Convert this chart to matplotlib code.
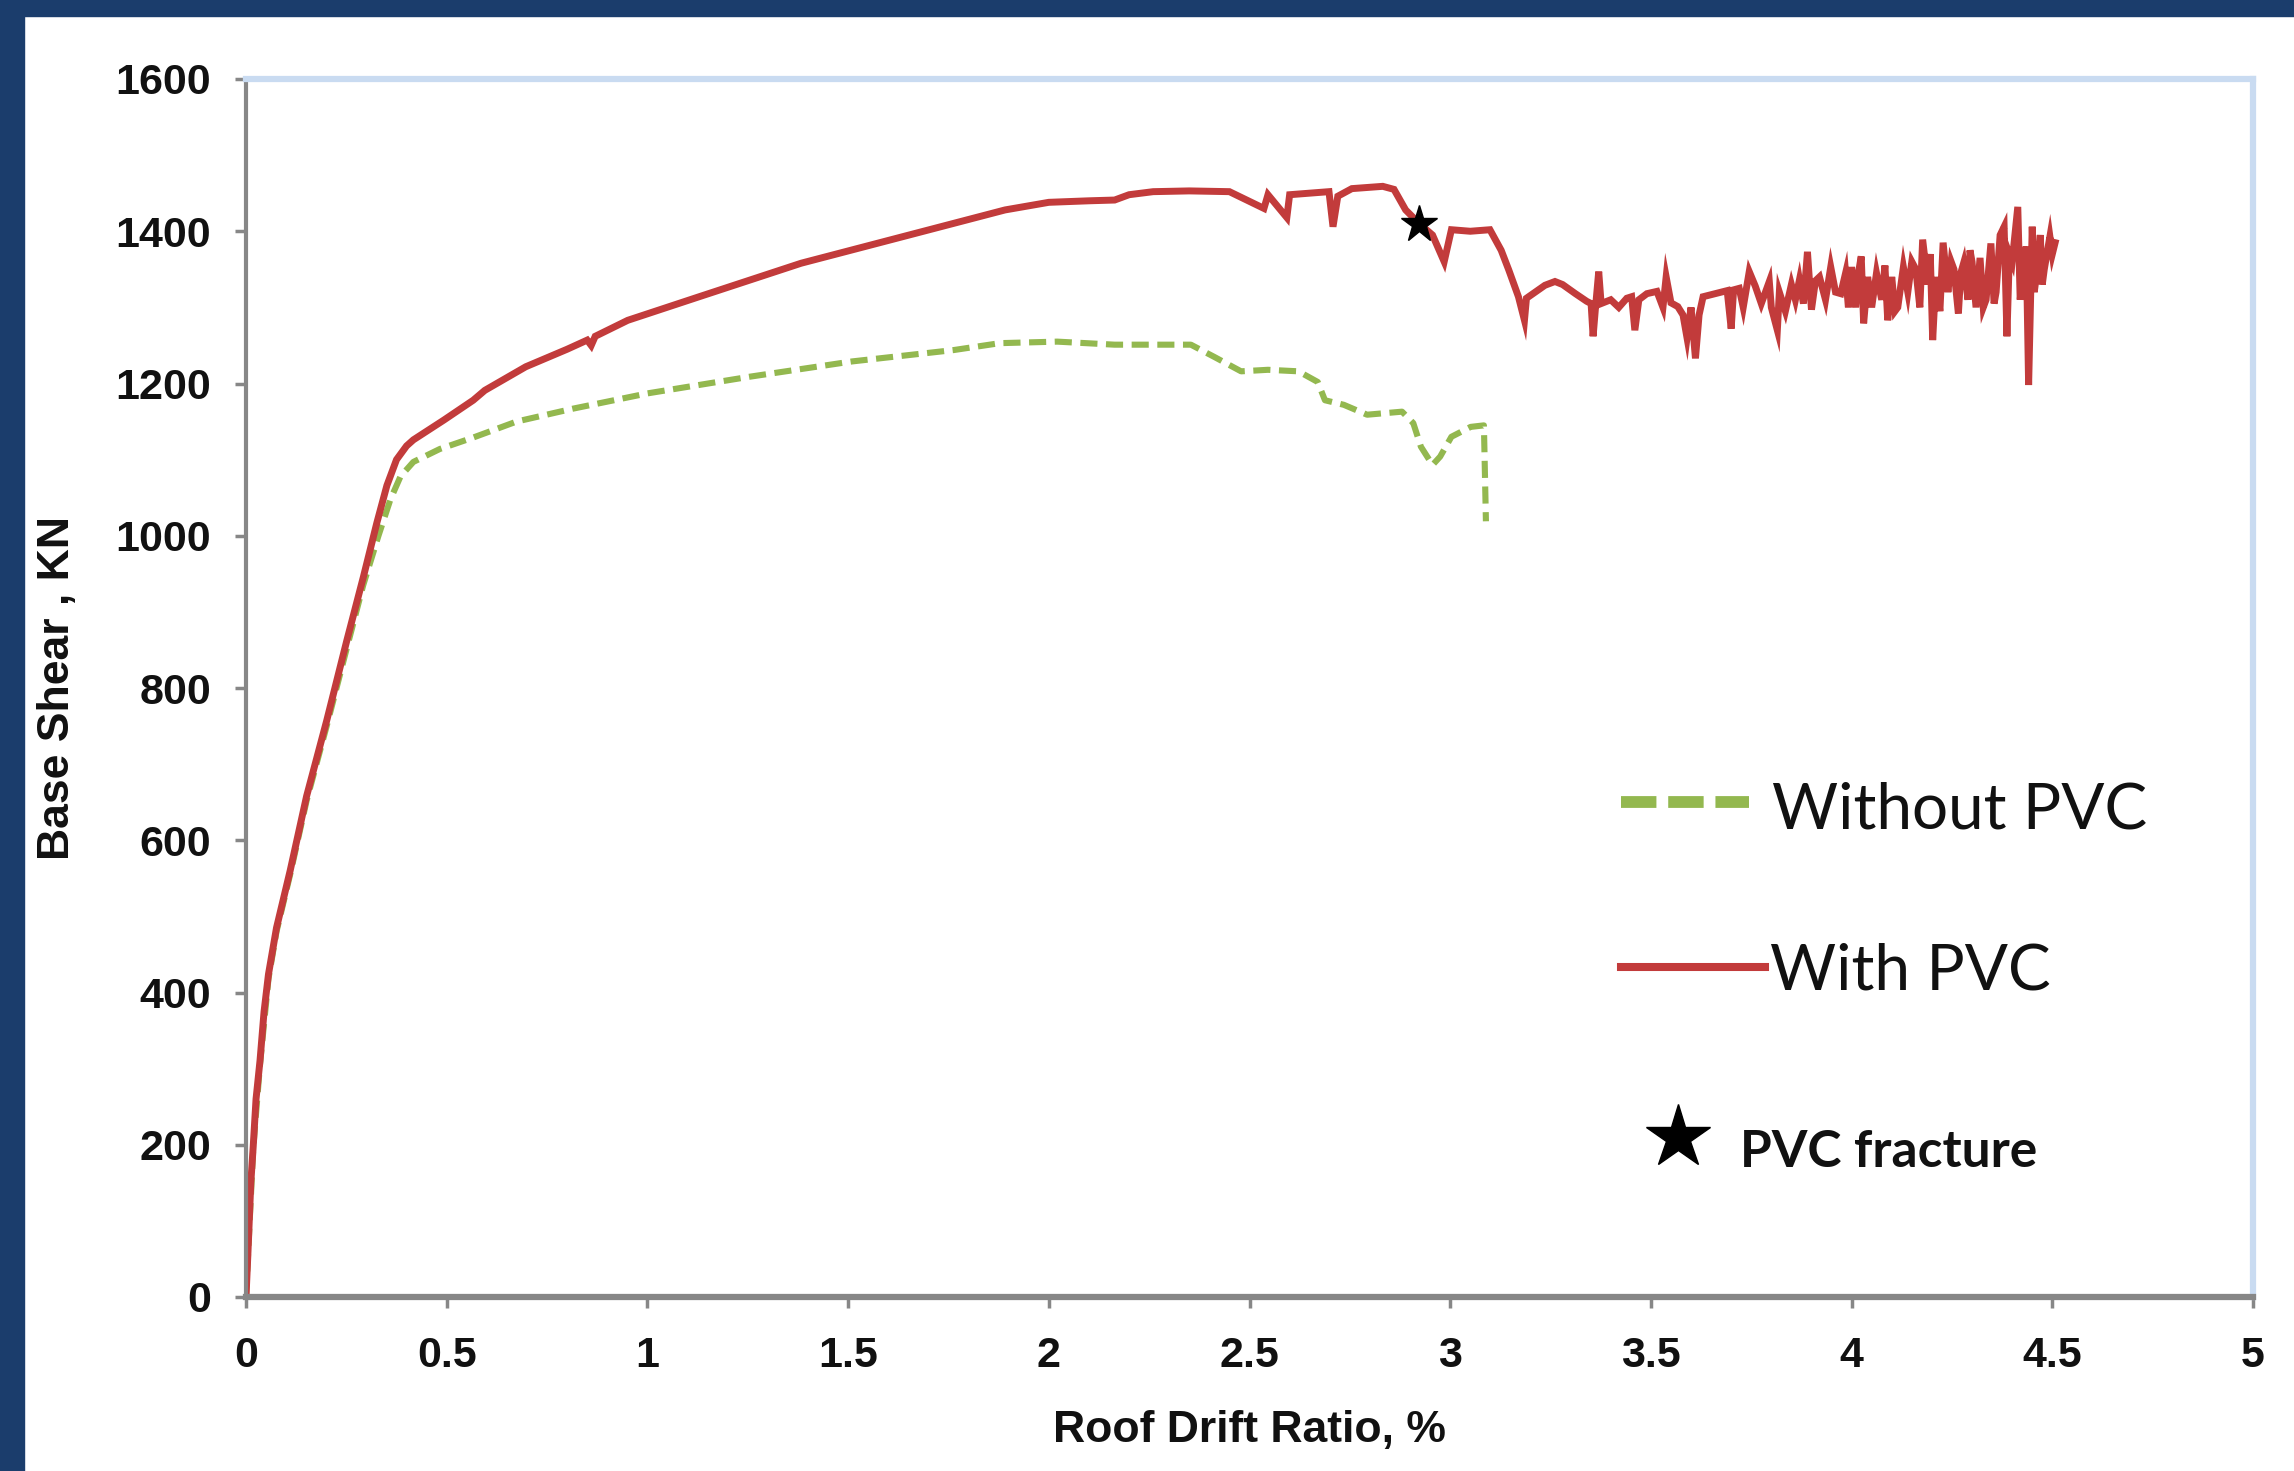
import numpy as np
import matplotlib
matplotlib.use('Agg')
import matplotlib.pyplot as plt
from matplotlib.lines import Line2D
from matplotlib.patches import Rectangle

W, H = 2294, 1471

# roof drift ratio (%) / base shear (kN)
with_pvc_x = [0.0, 0.005, 0.012, 0.018, 0.025, 0.035, 0.045, 0.056, 0.076, 0.11,
              0.151, 0.201, 0.251, 0.292, 0.326, 0.351, 0.375, 0.40, 0.417, 0.493,
              0.566, 0.595, 0.697, 0.80, 0.85, 0.86, 0.87, 0.951, 1.129, 1.383,
              1.637, 1.891, 2.0, 2.1, 2.164, 2.2, 2.26, 2.35, 2.45, 2.536,
              2.546, 2.593, 2.60, 2.698, 2.708, 2.72, 2.755, 2.832, 2.86, 2.889,
              2.923, 2.956, 2.985, 3.003, 3.05, 3.099, 3.127, 3.146, 3.17, 3.185,
              3.19, 3.236, 3.261, 3.28, 3.312, 3.34, 3.351, 3.356, 3.362, 3.370,
              3.376, 3.40, 3.42, 3.44, 3.452, 3.46, 3.47, 3.49, 3.515, 3.53,
              3.538, 3.55, 3.567, 3.58, 3.59, 3.60, 3.611, 3.62, 3.63, 3.66,
              3.69, 3.70, 3.706, 3.72, 3.73, 3.745, 3.76, 3.775, 3.795, 3.80,
              3.815, 3.82, 3.835, 3.85, 3.86, 3.87, 3.88, 3.89, 3.90, 3.91,
              3.92, 3.935, 3.948, 3.96, 3.973, 3.985, 3.992, 4.0, 4.01, 4.017,
              4.024, 4.03, 4.04, 4.05, 4.062, 4.075, 4.083, 4.09, 4.10, 4.108,
              4.115, 4.129, 4.14, 4.15, 4.16, 4.17, 4.177, 4.19, 4.196, 4.202,
              4.21, 4.22, 4.228, 4.24, 4.248, 4.255, 4.266, 4.272, 4.279, 4.29,
              4.295, 4.30, 4.31, 4.32, 4.328, 4.335, 4.347, 4.355, 4.36, 4.37,
              4.38, 4.387, 4.393, 4.40, 4.414, 4.42, 4.425, 4.435, 4.441, 4.45,
              4.455, 4.46, 4.47, 4.475, 4.48, 4.494, 4.50, 4.507]
with_pvc_y = [0, 60, 150, 198, 260, 311, 375, 424, 485, 560,
              658, 757, 862, 945, 1017, 1066, 1100, 1118, 1126, 1152,
              1178, 1191, 1222, 1245, 1257, 1250, 1262, 1283, 1314, 1358,
              1393, 1428, 1438, 1440, 1441, 1448, 1452, 1453, 1452, 1430,
              1448, 1418, 1448, 1452, 1406, 1446, 1456, 1459, 1455, 1428,
              1410, 1395, 1360, 1402, 1400, 1402, 1375, 1349, 1314, 1283,
              1312, 1329, 1334, 1330, 1318, 1308, 1305, 1262, 1300, 1347,
              1305, 1310, 1300, 1312, 1314, 1270, 1310, 1318, 1321, 1300,
              1340, 1306, 1301, 1290, 1260, 1300, 1233, 1290, 1314, 1318,
              1322, 1272, 1323, 1325, 1300, 1347, 1328, 1305, 1334, 1300,
              1270, 1320, 1295, 1330, 1310, 1336, 1305, 1373, 1297, 1335,
              1340, 1310, 1353, 1320, 1318, 1345, 1300, 1353, 1300, 1345,
              1367, 1279, 1340, 1300, 1345, 1310, 1355, 1283, 1340, 1295,
              1300, 1353, 1320, 1360, 1350, 1300, 1389, 1330, 1370, 1257,
              1340, 1295, 1385, 1320, 1360, 1350, 1292, 1345, 1358, 1310,
              1375, 1360, 1300, 1365, 1300, 1310, 1384, 1305, 1320, 1395,
              1406, 1262, 1370, 1360, 1432, 1310, 1340, 1380, 1198, 1406,
              1320, 1340, 1395, 1330, 1350, 1393, 1370, 1385]

without_pvc_x = [0.0, 0.018, 0.035, 0.056, 0.076, 0.11, 0.151, 0.201, 0.251, 0.292,
                 0.33, 0.36, 0.385, 0.417, 0.483, 0.566, 0.674, 0.815, 1.0, 1.256,
                 1.51, 1.764, 1.878, 2.021, 2.164, 2.354, 2.412, 2.479, 2.546, 2.622,
                 2.67, 2.688, 2.735, 2.793, 2.88, 2.908, 2.927, 2.956, 2.975, 3.003,
                 3.051, 3.084, 3.089]
without_pvc_y = [0, 195, 306, 418, 480, 555, 652, 750, 852, 935,
                 1000, 1048, 1078, 1097, 1114, 1129, 1150, 1167, 1187, 1209,
                 1229, 1244, 1253, 1255, 1251, 1251, 1235, 1216, 1218, 1216,
                 1202, 1178, 1172, 1159, 1163, 1148, 1117, 1093, 1104, 1130,
                 1143, 1145, 1019]

fracture_x = [2.923]
fracture_y = [1410]

x_ticks = [0, 0.5, 1, 1.5, 2, 2.5, 3, 3.5, 4, 4.5, 5]
x_ticklabels = ['0', '0.5', '1', '1.5', '2', '2.5', '3', '3.5', '4', '4.5', '5']
y_ticks = [0, 200, 400, 600, 800, 1000, 1200, 1400, 1600]

RED = '#c23b3b'
GREEN = '#93b84f'
GRAY = '#878787'
PALE = '#c9dbf1'
FRAME = '#1b3d6c'

def fx(px):
    return px / W

def fy(py):
    return 1 - py / H

fig = plt.figure(figsize=(W / 100, H / 100), dpi=100, facecolor='white')
ax = fig.add_axes([fx(246), fy(1297), fx(2253) - fx(246), fy(79) - fy(1297)])

ax.plot(without_pvc_x, without_pvc_y, color=GREEN, lw=4.4,
        linestyle=(0, (2.8, 1.4)))
ax.plot(with_pvc_x, with_pvc_y, color=RED, lw=5, solid_joinstyle='miter')
ax.plot(fracture_x, fracture_y, marker='*', ms=28, color='black', linestyle='none')

ax.set_xlim(0, 5)
ax.set_ylim(0, 1600)
ax.set_xticks(x_ticks)
ax.set_xticklabels(x_ticklabels)
ax.set_yticks(y_ticks)

for side in ['left', 'bottom']:
    ax.spines[side].set_color(GRAY)
ax.spines['left'].set_linewidth(3)
ax.spines['bottom'].set_linewidth(4.5)
for side in ['top', 'right']:
    ax.spines[side].set_color(PALE)
    ax.spines[side].set_linewidth(4.5)

ax.tick_params(axis='both', direction='out', length=8, width=2.5, color=GRAY)
ax.tick_params(axis='y', pad=17)
ax.tick_params(axis='x', pad=20)
for lab in ax.get_xticklabels() + ax.get_yticklabels():
    lab.set_fontfamily('Liberation Sans')
    lab.set_fontweight('bold')
    lab.set_fontsize(31)
    lab.set_color('#111111')

ax.set_xlabel('Roof Drift Ratio, %', fontfamily='Liberation Sans',
              fontweight='bold', fontsize=32, color='#111111')
ax.set_ylabel('Base Shear , KN', fontfamily='Liberation Sans',
              fontweight='bold', fontsize=32, color='#111111')
ax.xaxis.set_label_coords(0.5, (1297 - 1410) / 1218)
ax.yaxis.set_label_coords((78 - 246) / 2007, 0.5)

# legend drawn by hand, like the original sheet
fig.add_artist(Line2D([fx(1621), fx(1749)], [fy(802), fy(802)], color=GREEN,
                      lw=8.5, linestyle=(0, (3.0, 1.0))))
fig.add_artist(Line2D([fx(1621), fx(1765)], [fy(967), fy(967)], color=RED, lw=5.8))
fig.add_artist(Line2D([fx(1678)], [fy(1137)], marker='*', ms=48, color='black',
                      linestyle='none'))
fig.text(fx(1772), fy(828), 'Without PVC', fontfamily='Lato', fontsize=46,
         va='baseline', ha='left', color='#111111')
fig.text(fx(1770), fy(990), 'With PVC', fontfamily='Lato', fontsize=46,
         va='baseline', ha='left', color='#111111')
fig.text(fx(1740), fy(1167), 'PVC fracture', fontfamily='Lato', fontweight='bold',
         fontsize=37, va='baseline', ha='left', color='#111111')

# dark blue slide frame on top and left
fig.add_artist(Rectangle((0, fy(16)), 1, 16 / H, transform=fig.transFigure,
                         color=FRAME, zorder=10))
fig.add_artist(Rectangle((0, 0), 24 / W, 1, transform=fig.transFigure,
                         color=FRAME, zorder=10))

fig.savefig('out.png', dpi=100, facecolor='white')
